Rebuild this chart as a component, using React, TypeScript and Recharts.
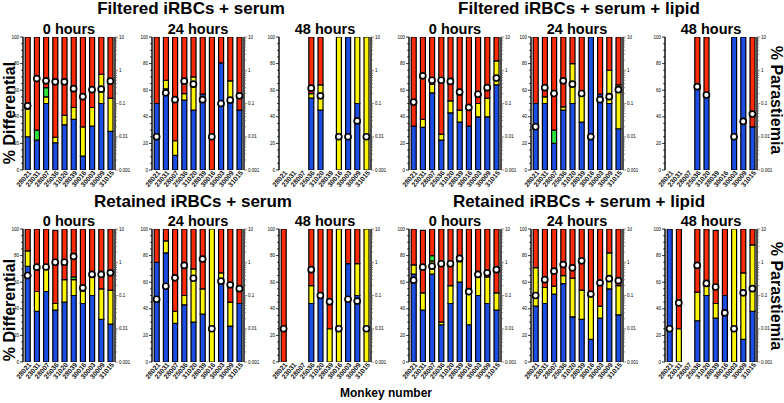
import React from "react";
import { ComposedChart, Bar, Line, XAxis, YAxis } from "recharts";

const monkeys = ["28021", "23031", "28007", "25036", "31020", "28039", "30016", "30003", "30009", "31015"];
const none = [0, 0, 0, 0, 0, 0, 0, 0, 0, 0];

// Filtered iRBCs + serum
const fs0Blue = [25, 22.5, 50, 20.5, 34, 38, 10.5, 33, 50, 29];
const fs0Yellow = [21, 0, 5, 4, 7, 9, 22, 14, 22, 25];
const fs0Green = [0, 7.5, 7, 0, 0, 0, 0, 0, 0, 0];
const fs0Red = [54, 70, 38, 75.5, 59, 53, 67.5, 53, 28, 46];
const fs0Para = [0.085, 0.56, 0.48, 0.45, 0.45, 0.28, 0.16, 0.26, 0.27, 0.47];

const fs24Blue = [50, 61, 11, 52.5, 45, 57, 0, 80.5, 52, 45];
const fs24Yellow = [0, 6.5, 11, 5, 25, 0, 0, 0, 15, 0];
const fs24Red = [50, 32.5, 78, 42.5, 30, 43, 100, 19.5, 33, 55];
const fs24Para = [0.01, 0.21, 0.13, 0.47, 0.38, 0.13, 0.01, 0.1, 0.126, 0.17];

const fs48Blue = [0, 0, 0, 54, 45, 0, 0, 100, 50, 0];
const fs48Yellow = [0, 0, 0, 3.5, 19, 0, 100, 0, 50, 100];
const fs48Red = [0, 0, 0, 42.5, 36, 0, 0, 0, 0, 0];
const fs48Para = [null, null, null, 0.29, 0.17, null, 0.01, 0.01, 0.03, 0.01];

// Filtered iRBCs + serum + lipid
const fl0Blue = [33, 32, 58, 22.5, 43, 36, 33, 40, 40, 64];
const fl0Yellow = [0, 6, 6.5, 4.5, 9, 9, 0, 10, 14, 18];
const fl0Red = [67, 62, 35.5, 73, 48, 55, 67, 50, 46, 18];
const fl0Para = [0.11, 0.68, 0.5, 0.5, 0.46, 0.22, 0.076, 0.19, 0.3, 0.58];

const fl24Blue = [50, 50, 20, 45, 50, 36, 100, 57, 50, 31];
const fl24Yellow = [0, 5, 0, 2.5, 30, 20, 0, 0, 25, 33];
const fl24Green = [0, 0, 10, 0, 0, 0, 0, 0, 0, 0];
const fl24Red = [50, 45, 70, 52.5, 20, 44, 0, 43, 25, 36];
const fl24Para = [0.02, 0.3, 0.2, 0.48, 0.38, 0.2, 0.01, 0.13, 0.16, 0.26];

const fl48Blue = [0, 0, 0, 61, 54.5, 0, 0, 100, 100, 32.5];
const fl48Red = [0, 0, 0, 39, 45.5, 0, 0, 0, 0, 67.5];
const fl48Para = [null, null, null, 0.32, 0.18, null, null, 0.01, 0.029, 0.048];

// Retained iRBCs + serum
const rs0Blue = [72, 38, 53, 39, 45, 50, 44, 50, 32, 28.5];
const rs0Yellow = [11.5, 15, 17, 5, 17, 12, 9.5, 14, 23, 25.5];
const rs0Green = [0, 0, 0, 0, 0, 2, 0, 0, 0, 0];
const rs0Red = [16.5, 47, 30, 55, 38, 36, 46.5, 36, 45, 46];
const rs0Para = [0.4, 0.71, 0.72, 1.0, 1.0, 1.5, 0.17, 0.43, 0.43, 0.48];

const rs24Blue = [75, 82, 29, 43, 30, 36, 0, 58.5, 27, 44];
const rs24Yellow = [0, 9, 9, 7, 40, 19, 100, 8.5, 18, 0];
const rs24Red = [25, 9, 62, 50, 30, 45, 0, 33, 55, 56];
const rs24Para = [0.077, 0.19, 0.34, 0.8, 0.33, 1.25, 0.01, 0.27, 0.21, 0.16];

const rs48Blue = [0, 0, 0, 44, 48.5, 0, 0, 74, 50, 0];
const rs48Yellow = [0, 0, 0, 13.5, 0, 25, 100, 0, 24, 100];
const rs48Red = [100, 0, 0, 42.5, 51.5, 75, 0, 26, 26, 0];
const rs48Para = [0.01, null, null, 0.6, 0.1, 0.065, 0.01, 0.077, 0.068, 0.01];

// Retained iRBCs + serum + lipid
const rl0Blue = [66, 39, 66, 28, 44, 60, 28, 50, 44, 39];
const rl0Yellow = [7, 13, 10, 2, 13.5, 15.5, 27, 14, 20, 13];
const rl0Green = [0, 0, 4, 0, 0, 0, 0, 0, 0, 0];
const rl0Red = [27, 47, 20, 70, 42.5, 24.5, 45, 36, 36, 48];
const rl0Para = [0.29, 0.71, 0.76, 0.9, 0.9, 1.3, 0.13, 0.43, 0.48, 0.6];

const rl24Blue = [42, 44, 51, 59, 34, 32, 17, 33, 55, 35.5];
const rl24Yellow = [29, 12, 6, 6, 29, 22, 33, 9, 27, 22];
const rl24Red = [29, 44, 43, 35, 37, 46, 50, 58, 18, 42.5];
const rl24Para = [0.1, 0.3, 0.54, 0.85, 0.68, 1.1, 0.11, 0.24, 0.32, 0.28];

const rl48Blue = [100, 0, 0, 31, 50, 33, 50, 0, 17, 38];
const rl48Yellow = [0, 25, 0, 21.5, 7.5, 11, 0, 100, 50, 50];
const rl48Red = [0, 75, 0, 47.5, 42.5, 55, 50, 0, 33, 12];
const rl48Para = [0.01, 0.06, null, 0.8, 0.23, 0.18, 0.03, 0.01, 0.12, 0.16];

const diffTicks = [0, 20, 40, 60, 80, 100];
const paraTicks = [0.001, 0.01, 0.1, 1, 10];
const paraLabels = ["0.001", "0.01", "0.1", "1", "10"];

const BLUE = "#1c4de4";
const YELLOW = "#fbf402";
const GREEN = "#2ee23c";
const RED = "#fb2a08";
const FONT = "'Liberation Sans', Arial, sans-serif";

const PW = 92;
const PH = 133;
const AX = 20;

// minor ticks every 5 on the left, 1..9 per decade on the right
const leftTickVals: number[] = [];
for (let v = 0; v <= 100; v += 5) leftTickVals.push(v);
const rightTickVals: number[] = [];
for (let d = -3; d < 1; d++) {
  for (let k = 1; k < 10; k++) rightTickVals.push(Number((k * Math.pow(10, d)).toPrecision(3)));
}
rightTickVals.push(10);

const LeftTick = (props: any) => {
  const { x, y, payload } = props;
  const major = diffTicks.includes(payload.value);
  return (
    <g>
      <line x1={x} x2={x - (major ? 3 : 1.8)} y1={y} y2={y} stroke="#000" strokeWidth={0.8} />
      {major && (
        <text x={x - 4} y={y + 1.6} textAnchor="end" fontSize={4.5} fontFamily={FONT} fill="#000">
          {payload.value}
        </text>
      )}
    </g>
  );
};

const RightTick = (props: any) => {
  const { x, y, payload } = props;
  const idx = paraTicks.findIndex((t) => Math.abs(t - payload.value) < 1e-9);
  const major = idx >= 0;
  return (
    <g>
      <line x1={x} x2={x + (major ? 3.2 : 2.2)} y1={y} y2={y} stroke="#555" strokeWidth={0.6} />
      {major && (
        <text x={x + 4} y={y + 1.6} textAnchor="start" fontSize={4.5} fontFamily={FONT} fill="#000">
          {paraLabels[idx]}
        </text>
      )}
    </g>
  );
};

const MonkeyTick = (props: any) => {
  const { x, y, payload } = props;
  const tx = x + 4;
  const ty = y + 3;
  return (
    <text
      x={tx}
      y={ty}
      transform={`rotate(-50 ${tx} ${ty})`}
      textAnchor="end"
      fontSize={6.8}
      fontWeight="bold"
      fontFamily={FONT}
      fill="#111"
    >
      {payload.value}
    </text>
  );
};

interface PanelProps {
  left: number;
  top: number;
  blue: number[];
  yellow: number[];
  green: number[];
  red: number[];
  para: (number | null)[];
}

function Panel({ left, top, blue, yellow, green, red, para }: PanelProps) {
  const rows = monkeys.map((m, i) => ({
    m,
    blue: blue[i],
    yellow: yellow[i],
    green: green[i],
    red: red[i],
    para: para[i],
  }));
  const seg = { stackId: "s", yAxisId: "l", stroke: "#000", strokeWidth: 1.2, isAnimationActive: false };

  return (
    <div style={{ position: "absolute", left: left - AX, top: top - 5 }}>
      <ComposedChart
        width={PW + 2 * AX}
        height={PH + 35}
        data={rows}
        margin={{ top: 5, right: 0, bottom: 0, left: 0 }}
        barCategoryGap="24%"
      >
        <XAxis
          dataKey="m"
          height={30}
          axisLine={false}
          tickLine={false}
          tickSize={0}
          tickMargin={0}
          interval={0}
          tick={MonkeyTick}
        />
        <YAxis
          yAxisId="l"
          width={AX}
          domain={[0, 100]}
          ticks={leftTickVals}
          interval={0}
          tick={LeftTick}
          tickLine={false}
          tickSize={0}
          tickMargin={0}
          axisLine={{ stroke: "#000", strokeWidth: 1.4 }}
          allowDataOverflow
        />
        <YAxis
          yAxisId="r"
          orientation="right"
          width={AX}
          scale="log"
          domain={[0.001, 10]}
          ticks={rightTickVals}
          interval={0}
          tick={RightTick}
          tickLine={false}
          tickSize={0}
          tickMargin={0}
          axisLine={{ stroke: "#000", strokeWidth: 1.4 }}
          allowDataOverflow
        />
        <Bar dataKey="blue" fill={BLUE} {...seg} />
        <Bar dataKey="yellow" fill={YELLOW} {...seg} />
        <Bar dataKey="green" fill={GREEN} {...seg} />
        <Bar dataKey="red" fill={RED} {...seg} />
        <Line
          yAxisId="r"
          dataKey="para"
          stroke="none"
          strokeWidth={0}
          dot={{ r: 3, fill: "#fff", stroke: "#000", strokeWidth: 1.7 }}
          activeDot={false}
          isAnimationActive={false}
        />
      </ComposedChart>
    </div>
  );
}

const lefts = [23, 152, 279, 409, 531, 665];
const topRow = 37;
const bottomRow = 229;

export default function App() {
  return (
    <div
      style={{
        position: "absolute",
        left: 0,
        top: 0,
        width: 784,
        height: 403,
        background: "#fff",
        overflow: "hidden",
        fontFamily: FONT,
      }}
    >
      <Panel left={lefts[0]} top={topRow} blue={fs0Blue} yellow={fs0Yellow} green={fs0Green} red={fs0Red} para={fs0Para} />
      <Panel left={lefts[1]} top={topRow} blue={fs24Blue} yellow={fs24Yellow} green={none} red={fs24Red} para={fs24Para} />
      <Panel left={lefts[2]} top={topRow} blue={fs48Blue} yellow={fs48Yellow} green={none} red={fs48Red} para={fs48Para} />
      <Panel left={lefts[3]} top={topRow} blue={fl0Blue} yellow={fl0Yellow} green={none} red={fl0Red} para={fl0Para} />
      <Panel left={lefts[4]} top={topRow} blue={fl24Blue} yellow={fl24Yellow} green={fl24Green} red={fl24Red} para={fl24Para} />
      <Panel left={lefts[5]} top={topRow} blue={fl48Blue} yellow={none} green={none} red={fl48Red} para={fl48Para} />

      <Panel left={lefts[0]} top={bottomRow} blue={rs0Blue} yellow={rs0Yellow} green={rs0Green} red={rs0Red} para={rs0Para} />
      <Panel left={lefts[1]} top={bottomRow} blue={rs24Blue} yellow={rs24Yellow} green={none} red={rs24Red} para={rs24Para} />
      <Panel left={lefts[2]} top={bottomRow} blue={rs48Blue} yellow={rs48Yellow} green={none} red={rs48Red} para={rs48Para} />
      <Panel left={lefts[3]} top={bottomRow} blue={rl0Blue} yellow={rl0Yellow} green={rl0Green} red={rl0Red} para={rl0Para} />
      <Panel left={lefts[4]} top={bottomRow} blue={rl24Blue} yellow={rl24Yellow} green={none} red={rl24Red} para={rl24Para} />
      <Panel left={lefts[5]} top={bottomRow} blue={rl48Blue} yellow={rl48Yellow} green={none} red={rl48Red} para={rl48Para} />

      <svg width={784} height={403} style={{ position: "absolute", left: 0, top: 0, pointerEvents: "none" }}>
        <g fontFamily={FONT} fontWeight="bold" fill="#000" textAnchor="middle">
          <text x={191} y={14} fontSize={17}>Filtered iRBCs + serum</text>
          <text x={579} y={14} fontSize={17}>Filtered iRBCs + serum + lipid</text>
          <text x={193} y={207} fontSize={17}>Retained iRBCs + serum</text>
          <text x={579} y={207} fontSize={17}>Retained iRBCs + serum + lipid</text>

          <text x={lefts[0] + PW / 2} y={34} fontSize={14.5}>0 hours</text>
          <text x={lefts[1] + PW / 2} y={34} fontSize={14.5}>24 hours</text>
          <text x={lefts[2] + PW / 2} y={34} fontSize={14.5}>48 hours</text>
          <text x={lefts[3] + PW / 2} y={34} fontSize={14.5}>0 hours</text>
          <text x={lefts[4] + PW / 2} y={34} fontSize={14.5}>24 hours</text>
          <text x={lefts[5] + PW / 2} y={34} fontSize={14.5}>48 hours</text>

          <text x={lefts[0] + PW / 2} y={226} fontSize={14.5}>0 hours</text>
          <text x={lefts[1] + PW / 2} y={226} fontSize={14.5}>24 hours</text>
          <text x={lefts[2] + PW / 2} y={226} fontSize={14.5}>48 hours</text>
          <text x={lefts[3] + PW / 2} y={226} fontSize={14.5}>0 hours</text>
          <text x={lefts[4] + PW / 2} y={226} fontSize={14.5}>24 hours</text>
          <text x={lefts[5] + PW / 2} y={226} fontSize={14.5}>48 hours</text>

          <text x={14.5} y={113} fontSize={16} transform="rotate(-90 14.5 113)">% Differential</text>
          <text x={14.5} y={310} fontSize={16} transform="rotate(-90 14.5 310)">% Differential</text>
          <text x={771} y={100} fontSize={16} transform="rotate(90 771 100)">% Parastiemia</text>
          <text x={771} y={296} fontSize={16} transform="rotate(90 771 296)">% Parastiemia</text>

          <text x={386} y={397} fontSize={12}>Monkey number</text>
        </g>
      </svg>
    </div>
  );
}
